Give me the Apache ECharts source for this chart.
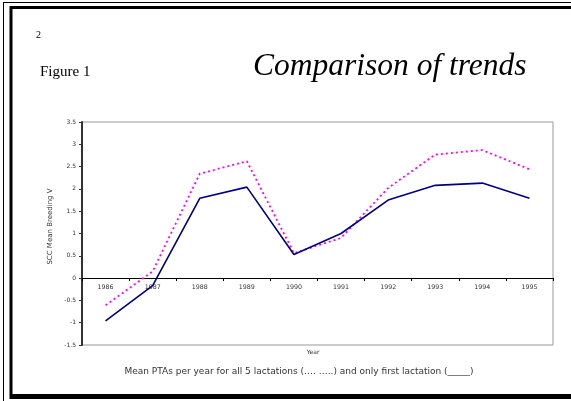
<!DOCTYPE html>
<html>
<head>
<meta charset="utf-8">
<script src="https://cdn.jsdelivr.net/npm/echarts@6/dist/echarts.min.js"></script>
<style>html,body{margin:0;padding:0;background:#fff}#c{width:571px;height:401px}</style>
</head>
<body>
<div id="c"></div>
<script>
var years = ['1986','1987','1988','1989','1990','1991','1992','1993','1994','1995'];
var allLactations = [-0.61, 0.15, 2.34, 2.62, 0.56, 0.90, 2.02, 2.77, 2.87, 2.44];
var firstLactation = [-0.96, -0.17, 1.79, 2.04, 0.53, 1.00, 1.75, 2.08, 2.13, 1.79];
var yTicks = {min: -1.5, max: 3.5, interval: 0.5};

var gridH = 223;
var zeroOffset = gridH * (0 - yTicks.min) / (yTicks.max - yTicks.min);

var chart = echarts.init(document.getElementById('c'));
var tickFont = {fontFamily: 'DejaVu Sans', fontSize: 6, color: '#333'};
chart.setOption({
  animation: false,
  backgroundColor: '#fff',
  grid: {left: 82, top: 122, width: 471, height: gridH, show: true, borderColor: '#999', borderWidth: 1, backgroundColor: 'transparent'},
  xAxis: {
    type: 'category', data: years, boundaryGap: true, position: 'bottom', offset: -zeroOffset,
    axisLine: {onZero: false, lineStyle: {color: '#000', width: 1}},
    axisTick: {show: true, length: 3, lineStyle: {color: '#000'}},
    axisLabel: {margin: 6, interval: 0, fontFamily: 'DejaVu Sans', fontSize: 6.3, color: '#333'},
    splitLine: {show: false}
  },
  yAxis: {
    type: 'value', min: yTicks.min, max: yTicks.max, interval: yTicks.interval,
    name: 'SCC Mean Breeding V', nameLocation: 'middle', nameGap: 28, nameRotate: 90,
    nameTextStyle: {fontFamily: 'DejaVu Sans', fontSize: 7, color: '#333', padding: [0, 0, 0, 14]},
    axisLine: {show: true, onZero: false, lineStyle: {color: '#333', width: 2}},
    axisTick: {show: true, length: 3, lineStyle: {color: '#333'}},
    axisLabel: Object.assign({margin: 6}, tickFont),
    splitLine: {show: false}
  },
  series: [
    {type: 'line', data: allLactations, symbol: 'none', z: 3,
     lineStyle: {color: '#ff00ff', width: 1.8, type: [2, 3]}},
    {type: 'line', data: firstLactation, symbol: 'none', z: 4,
     lineStyle: {color: '#000080', width: 1.6}}
  ],
  graphic: [
    {type: 'line', shape: {x1: 3, y1: 2.5, x2: 571, y2: 2.5}, style: {stroke: '#000', lineWidth: 1}},
    {type: 'line', shape: {x1: 3.5, y1: 2, x2: 3.5, y2: 401}, style: {stroke: '#000', lineWidth: 1}},
    {type: 'line', shape: {x1: 10, y1: 7.5, x2: 571, y2: 7.5}, style: {stroke: '#000', lineWidth: 3}},
    {type: 'line', shape: {x1: 11, y1: 6, x2: 11, y2: 399}, style: {stroke: '#000', lineWidth: 3}},
    {type: 'line', shape: {x1: 10, y1: 396.5, x2: 571, y2: 396.5}, style: {stroke: '#000', lineWidth: 5}},
    {type: 'text', left: 36, top: 30, style: {text: '2', font: '10px "Liberation Serif"', fill: '#000'}},
    {type: 'text', left: 40, top: 65, style: {text: 'Figure 1', font: '15px "Liberation Serif"', fill: '#000'}},
    {type: 'text', x: 253, y: 67, style: {text: 'Comparison of trends', font: 'italic 31.5px "Liberation Serif"', fill: '#000', textVerticalAlign: 'middle'}},
    {type: 'text', x: 313, y: 352, style: {text: 'Year', font: '6px "DejaVu Sans"', fill: '#333', textAlign: 'center', textVerticalAlign: 'middle'}},
    {type: 'text', x: 299, y: 372, style: {text: 'Mean PTAs per year for all 5 lactations (\u2026. \u2026..) and only first lactation (_____)', font: '9px "DejaVu Sans"', fill: '#333', textAlign: 'center', textVerticalAlign: 'middle'}}
  ]
});
</script>
</body>
</html>
